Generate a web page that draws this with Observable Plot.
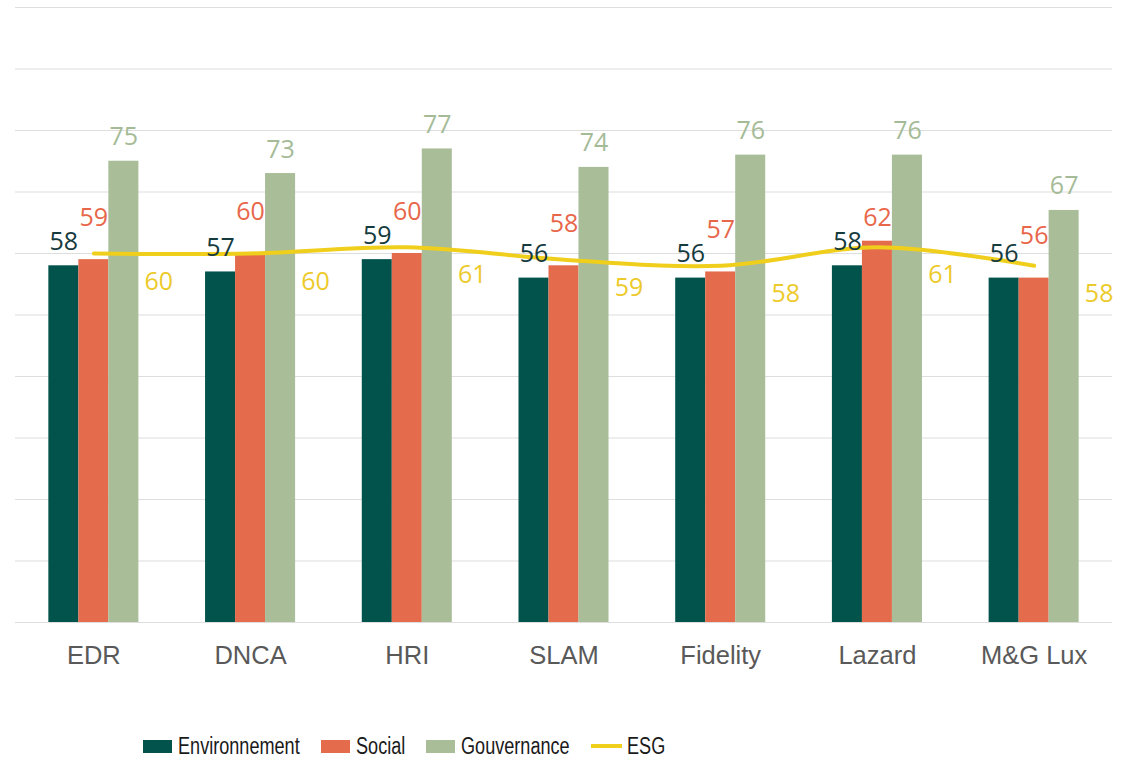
<!DOCTYPE html>
<html>
<head>
<meta charset="utf-8">
<script src="https://cdn.jsdelivr.net/npm/d3@7"></script>
<script src="https://cdn.jsdelivr.net/npm/@observablehq/plot@0.6"></script>
<style>
  body { margin: 0; background: #fff; width: 1122px; height: 758px; position: relative; overflow: hidden; }
  #chart svg { display: block; }
  #legend {
    position: absolute; left: 143px; top: 733px;
    display: flex; align-items: center;
    font-family: "Liberation Sans", Arial, sans-serif;
    font-size: 23.5px; color: #1a1a1a; line-height: 26px;
  }
  #legend .item { display: flex; align-items: center; margin-right: 21px; }
  #legend .sw { width: 29px; height: 13px; margin-right: 6px; flex: none; }
  #legend .ln { width: 31px; height: 4px; margin-right: 5px; flex: none; }
  #legend .txt { display: inline-block; overflow: visible; white-space: nowrap; }
  #legend .txt span { display: inline-block; transform: scaleX(0.77); transform-origin: 0 50%; }
</style>
</head>
<body>
<div id="chart"></div>
<div id="legend"></div>
<script>
// Fund scores by pillar
const funds = ["EDR", "DNCA", "HRI", "SLAM", "Fidelity", "Lazard", "M&G Lux"];
const environnement = [58, 57, 59, 56, 56, 58, 56];
const social = [59, 60, 60, 58, 57, 62, 56];
const gouvernance = [75, 73, 77, 74, 76, 76, 67];
const esg = [60, 60, 61, 59, 58, 61, 58];
const yTicks = [0, 10, 20, 30, 40, 50, 60, 70, 80, 90, 100];

const seriesNames = ["Environnement", "Social", "Gouvernance", "ESG"];
const colors = {
  Environnement: "#02534c",
  Social: "#e46c4d",
  Gouvernance: "#a9bd98",
  ESG: "#f0ce1c"
};
const labelColors = {
  Environnement: "#163b3e",
  Social: "#e8674b",
  Gouvernance: "#a5bb97",
  ESG: "#edca2c"
};

const rows = funds.map((fund, i) => ({
  fund,
  env: environnement[i],
  soc: social[i],
  gov: gouvernance[i],
  esg: esg[i]
}));

const labelFont = "Open Sans, sans-serif";
const labelSize = 25;

const chart = Plot.plot({
  width: 1122,
  height: 700,
  marginTop: 7,
  marginBottom: 78,
  marginLeft: 15,
  marginRight: 10,
  x: { domain: funds, paddingInner: 0.4255, paddingOuter: 0.2128, round: false },
  y: { domain: [0, 100], axis: null },
  marks: [
    Plot.gridY(yTicks, { stroke: "#dedede", strokeOpacity: 1, strokeWidth: 1.2 }),
    // three bars share each fund's band, a third each
    Plot.barY(rows, { x: "fund", y: "env", fill: colors.Environnement, insetRight: 60 }),
    Plot.barY(rows, { x: "fund", y: "soc", fill: colors.Social, insetLeft: 30, insetRight: 30 }),
    Plot.barY(rows, { x: "fund", y: "gov", fill: colors.Gouvernance, insetLeft: 60 }),
    Plot.line(rows, { x: "fund", y: "esg", stroke: colors.ESG, strokeWidth: 4, curve: "catmull-rom" }),
    Plot.text(rows, { x: "fund", y: "env", text: "env", dx: -30, dy: -24,
      fill: labelColors.Environnement, fontSize: labelSize, fontFamily: labelFont }),
    // social labels lift clear of the ESG line when they sit under it
    Plot.text(rows.filter(d => d.soc <= d.esg), { x: "fund", y: "soc", text: "soc", dy: -42,
      fill: labelColors.Social, fontSize: labelSize, fontFamily: labelFont }),
    Plot.text(rows.filter(d => d.soc > d.esg), { x: "fund", y: "soc", text: "soc", dy: -23,
      fill: labelColors.Social, fontSize: labelSize, fontFamily: labelFont }),
    Plot.text(rows, { x: "fund", y: "gov", text: "gov", dx: 30, dy: -24,
      fill: labelColors.Gouvernance, fontSize: labelSize, fontFamily: labelFont }),
    Plot.text(rows, { x: "fund", y: "esg", text: "esg", dx: 65, dy: 28,
      fill: labelColors.ESG, fontSize: labelSize, fontFamily: labelFont }),
    Plot.axisX({ tickSize: 0, tickPadding: 23, fontSize: 25.5, fill: "#595959",
      fontFamily: "Liberation Sans, Arial, sans-serif", label: null })
  ]
});
document.getElementById("chart").appendChild(chart);

// legend below the chart, set in a narrowed sans
const legend = document.getElementById("legend");
for (const name of seriesNames) {
  const item = document.createElement("div");
  item.className = "item";
  const sw = document.createElement("span");
  sw.className = name === "ESG" ? "ln" : "sw";
  sw.style.background = colors[name];
  const box = document.createElement("span");
  box.className = "txt";
  const label = document.createElement("span");
  label.textContent = name;
  box.appendChild(label);
  item.appendChild(sw);
  item.appendChild(box);
  legend.appendChild(item);
  box.style.width = (label.getBoundingClientRect().width) + "px";
}
</script>
</body>
</html>
